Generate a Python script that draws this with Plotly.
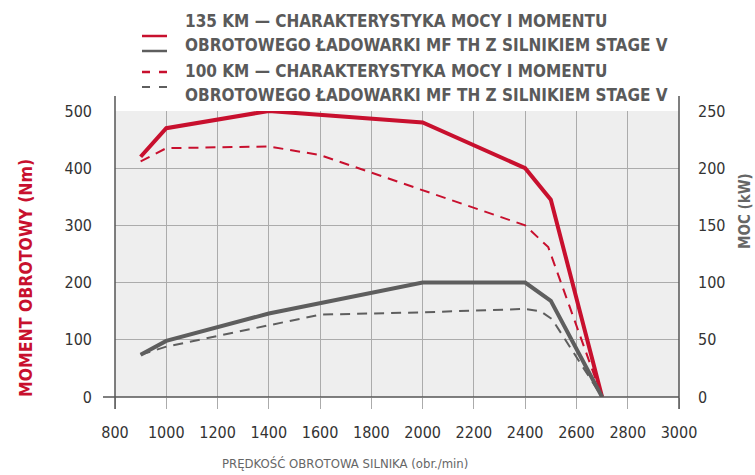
import plotly.graph_objects as go

# ---- data ----
rpm_torque_135 = [900, 1000, 1400, 2000, 2400, 2500, 2700]
torque_135 = [420, 470, 500, 480, 400, 345, 0]

rpm_power_135 = [900, 1000, 1400, 2000, 2400, 2500, 2700]
power_135 = [37, 49, 73, 100, 100, 84, 0]

rpm_torque_100 = [900, 1000, 1400, 1600, 2400, 2490, 2700]
torque_100 = [412, 435, 438, 423, 300, 262, 0]

rpm_power_100 = [900, 1000, 1600, 2000, 2400, 2460, 2505, 2700]
power_100 = [37, 44, 72, 74, 77, 75, 68, 0]

x_ticks = [800, 1000, 1200, 1400, 1600, 1800, 2000, 2200, 2400, 2600, 2800, 3000]
y_ticks = [0, 100, 200, 300, 400, 500]
y2_ticks = [0, 50, 100, 150, 200, 250]

legend_lines = [
    "135 KM — CHARAKTERYSTYKA MOCY I MOMENTU",
    "OBROTOWEGO ŁADOWARKI MF TH Z SILNIKIEM STAGE V",
    "100 KM — CHARAKTERYSTYKA MOCY I MOMENTU",
    "OBROTOWEGO ŁADOWARKI MF TH Z SILNIKIEM STAGE V",
]

RED = "#c8102e"
GRAY = "#5e5e5e"
GRID = "#ababab"
FONT = "DejaVu Sans Condensed, Liberation Sans Narrow, sans-serif"

W, H = 755, 475
L, R, T, B = 115, 76, 111, 78
PW, PH = W - L - R, H - T - B


def px_x(px):
    return (px - L) / PW


def px_y(py):
    return (H - B - py) / PH


fig = go.Figure()
fig.add_trace(go.Scatter(x=rpm_power_100, y=power_100, yaxis="y2", mode="lines",
                         line=dict(color=GRAY, width=2, dash="10px,7px"), name="moc 100 KM"))
fig.add_trace(go.Scatter(x=rpm_power_135, y=power_135, yaxis="y2", mode="lines",
                         line=dict(color=GRAY, width=4), name="moc 135 KM"))
fig.add_trace(go.Scatter(x=rpm_torque_100, y=torque_100, mode="lines",
                         line=dict(color=RED, width=2, dash="10px,7px"), name="moment 100 KM"))
fig.add_trace(go.Scatter(x=rpm_torque_135, y=torque_135, mode="lines",
                         line=dict(color=RED, width=4), name="moment 135 KM"))

shapes = []
# axis lines extending beyond the plot area
shapes.append(dict(type="line", xref="paper", yref="paper", x0=0, x1=0,
                   y0=px_y(409), y1=px_y(96), line=dict(color="#555", width=1.5), layer="above"))
shapes.append(dict(type="line", xref="paper", yref="paper", x0=1, x1=1,
                   y0=px_y(409), y1=px_y(96), line=dict(color="#555", width=1.5), layer="above"))
shapes.append(dict(type="line", xref="paper", yref="paper", x0=px_x(103), x1=1,
                   y0=0, y1=0, line=dict(color="#555", width=1.5), layer="above"))


def sample(y, color, width, dash):
    shapes.append(dict(type="line", xref="paper", yref="paper", x0=px_x(142), x1=px_x(167),
                       y0=px_y(y), y1=px_y(y), line=dict(color=color, width=width, dash=dash)))


sample(36, RED, 2.5, "solid")
sample(51, GRAY, 2.5, "solid")
sample(72, RED, 2.5, "8px,9px")
sample(87, GRAY, 2, "8px,9px")

annotations = []
for text, cy in zip(legend_lines, [21, 45, 71, 95]):
    annotations.append(dict(text="<b>" + text + "</b>", xref="paper", yref="paper",
                            x=px_x(183), y=px_y(cy), xanchor="left", yanchor="middle",
                            showarrow=False, font=dict(family=FONT, size=17, color="#5a5a5a")))

annotations.append(dict(text="<b>MOMENT OBROTOWY (Nm)</b>", xref="paper", yref="paper",
                        x=px_x(26), y=px_y(278), textangle=-90, xanchor="center", yanchor="middle",
                        showarrow=False, font=dict(family=FONT, size=17.5, color=RED)))
annotations.append(dict(text="<b>MOC (kW)</b>", xref="paper", yref="paper",
                        x=px_x(745), y=px_y(211), textangle=-90, xanchor="center", yanchor="middle",
                        showarrow=False, font=dict(family=FONT, size=15, color="#666")))
annotations.append(dict(text="PRĘDKOŚĆ OBROTOWA SILNIKA (obr./min)", xref="paper", yref="paper",
                        x=px_x(345), y=px_y(464), xanchor="center", yanchor="middle",
                        showarrow=False, font=dict(family=FONT, size=13, color="#666")))

fig.update_layout(
    width=W, height=H,
    margin=dict(l=L, r=R, t=T, b=B, autoexpand=False),
    paper_bgcolor="white",
    plot_bgcolor="#eeeeee",
    showlegend=False,
    shapes=shapes,
    annotations=annotations,
    xaxis=dict(range=[800, 3000], tickvals=x_ticks, ticktext=[str(v) for v in x_ticks],
               showgrid=True, gridcolor=GRID, gridwidth=1, zeroline=False, showline=False,
               ticks="outside", ticklen=11, tickcolor=GRID, tickwidth=1, ticklabelstandoff=10,
               automargin=False,
               tickfont=dict(family=FONT, size=16, color="#333"), fixedrange=True),
    yaxis=dict(range=[0, 500], tickvals=y_ticks, showgrid=True, gridcolor=GRID, gridwidth=1,
               zeroline=False, showline=False, ticks="", ticklabelstandoff=22, automargin=False,
               tickfont=dict(family=FONT, size=16, color="#333"), fixedrange=True),
    yaxis2=dict(range=[0, 250], tickvals=y2_ticks, overlaying="y", side="right",
                showgrid=False, zeroline=False, showline=False, ticks="", ticklabelstandoff=18,
                automargin=False,
                tickfont=dict(family=FONT, size=16, color="#333"), fixedrange=True),
)

fig.write_html("out.html", config={"displayModeBar": False},
               post_script="document.body.style.margin='0';")
